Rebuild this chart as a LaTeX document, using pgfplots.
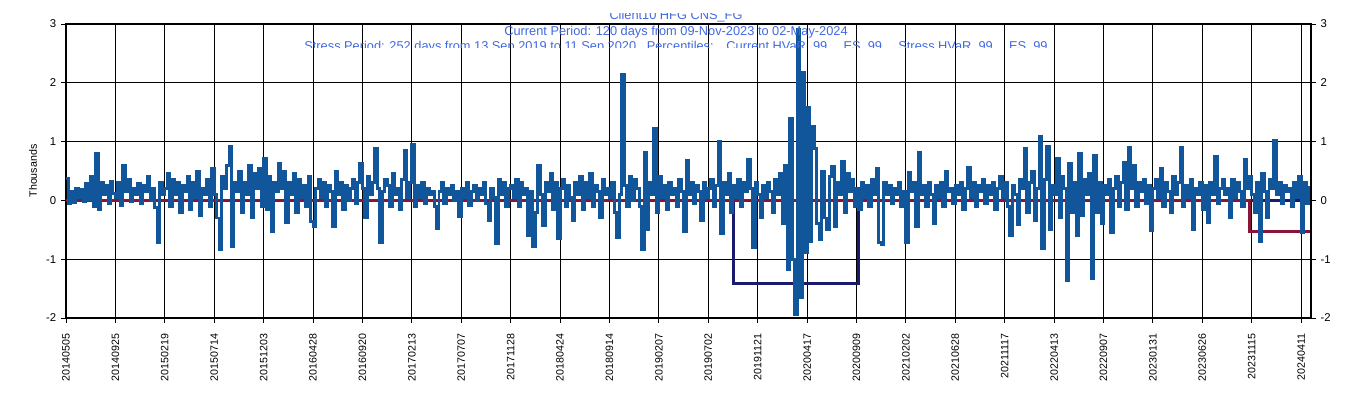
\documentclass[border=0pt]{standalone}
\usepackage{pgfplots}
\pgfplotsset{compat=1.18}
\usepackage{fontspec}
\setmainfont{Liberation Sans}
\definecolor{serblue}{RGB}{17,85,154}
\definecolor{serred}{RGB}{139,21,56}
\definecolor{sernavy}{RGB}{26,26,110}
\definecolor{ttlblue}{RGB}{65,105,225}
\begin{document}
\begin{tikzpicture}
\begin{axis}[
  name=ax,
  at={(49.5pt,60pt)}, anchor=south west,
  scale only axis, width=933.75pt, height=220.5pt,
  xmin=0, xmax=2520, ymin=-2, ymax=3,
  axis line style={line width=0.9pt},
  grid=major, grid style={black, line width=0.7pt},
  tick align=outside, major tick length=3.75pt,
  tick style={black, line width=0.7pt},
  xtick={0,100,...,2500},
  xticklabels={20140505,20140925,20150219,20150714,20151203,20160428,20160920,20170213,20170707,20171128,20180424,20180914,20190207,20190702,20191121,20200417,20200909,20210202,20210628,20211117,20220413,20220907,20230131,20230626,20231115,20240411},
  xticklabel style={rotate=90, anchor=east, font=\fontsize{8}{9}\selectfont},
  xticklabel shift=4.5pt,
  ytick={-2,-1,0,1,2,3},
  yticklabels={-2,-1,0,1,2,3},
  yticklabel style={font=\fontsize{8.5}{10}\selectfont},
  xtick pos=bottom, ytick pos=left,
  ylabel={Thousands},
  ylabel style={font=\fontsize{8}{9}\selectfont},
  clip=true,
]
\addplot[sernavy, line width=2.2pt, line join=miter] coordinates {(0,0) (1352,0) (1352,-1.42) (1604,-1.42) (1604,0) (2520,0)};
\addplot[serred, line width=2.2pt, line join=miter] coordinates {(0,0) (2396,0) (2396,-0.53) (2520,-0.53)};
\addplot[serblue, line width=2.2pt, const plot, line join=miter] table[x expr=\coordindex*5, y=y, row sep=\\] {
y\\
0.37\\ -0.05\\ 0.15\\ -0.03\\ 0.2\\ 0.05\\ 0.18\\ -0.02\\ 0.28\\ 0.02\\
0.4\\ -0.1\\ 0.8\\ -0.15\\ 0.3\\ 0.1\\ 0.25\\ -0.05\\ 0.32\\ 0.12\\
0.05\\ 0.3\\ -0.08\\ 0.6\\ 0.15\\ 0.35\\ -0.02\\ 0.2\\ 0.1\\ 0.28\\
-0.05\\ 0.25\\ 0.15\\ 0.4\\ 0.0\\ 0.2\\ -0.12\\ -0.71\\ 0.3\\ 0.1\\
0.2\\ 0.45\\ -0.1\\ 0.35\\ 0.1\\ 0.3\\ -0.2\\ 0.25\\ 0.15\\ 0.4\\
-0.15\\ 0.3\\ 0.05\\ 0.5\\ -0.25\\ 0.2\\ 0.1\\ 0.35\\ -0.1\\ 0.55\\
0.1\\ -0.3\\ -0.83\\ 0.4\\ 0.2\\ 0.6\\ 0.92\\ -0.78\\ 0.3\\ 0.15\\
0.5\\ -0.2\\ 0.3\\ 0.1\\ 0.6\\ -0.3\\ 0.45\\ 0.2\\ 0.55\\ -0.1\\
0.71\\ -0.15\\ 0.4\\ -0.53\\ 0.3\\ 0.15\\ 0.63\\ 0.2\\ 0.5\\ -0.38\\
0.3\\ 0.1\\ 0.45\\ -0.2\\ 0.35\\ 0.05\\ 0.25\\ -0.1\\ 0.4\\ -0.36\\
-0.44\\ 0.2\\ 0.35\\ 0.05\\ 0.3\\ -0.1\\ 0.25\\ 0.15\\ -0.45\\ 0.5\\
0.1\\ 0.3\\ -0.15\\ 0.25\\ 0.0\\ 0.2\\ 0.35\\ -0.05\\ 0.3\\ 0.63\\
0.2\\ -0.3\\ 0.4\\ 0.1\\ 0.3\\ 0.88\\ 0.2\\ -0.71\\ 0.15\\ 0.35\\
0.25\\ -0.1\\ 0.45\\ 0.1\\ 0.2\\ -0.15\\ 0.35\\ 0.85\\ 0.05\\ 0.3\\
0.95\\ -0.1\\ 0.25\\ 0.05\\ 0.3\\ -0.05\\ 0.2\\ 0.1\\ 0.15\\ -0.1\\
-0.48\\ 0.15\\ 0.3\\ -0.05\\ 0.2\\ 0.1\\ 0.25\\ 0.0\\ 0.15\\ -0.27\\
0.2\\ 0.05\\ 0.3\\ -0.08\\ 0.15\\ 0.25\\ 0.0\\ 0.2\\ 0.1\\ 0.3\\
-0.05\\ -0.35\\ 0.2\\ 0.05\\ -0.73\\ 0.35\\ 0.1\\ 0.3\\ -0.1\\ 0.2\\
0.25\\ 0.05\\ 0.35\\ -0.1\\ 0.3\\ 0.1\\ 0.2\\ -0.6\\ 0.15\\ -0.78\\
-0.2\\ 0.6\\ 0.1\\ -0.43\\ 0.3\\ 0.15\\ 0.45\\ -0.15\\ 0.3\\ -0.65\\
0.2\\ 0.35\\ -0.1\\ 0.25\\ 0.05\\ -0.35\\ 0.3\\ 0.1\\ 0.4\\ -0.15\\
0.3\\ 0.05\\ 0.45\\ -0.1\\ 0.25\\ 0.15\\ -0.3\\ 0.35\\ 0.1\\ 0.2\\
0.05\\ 0.3\\ -0.2\\ -0.63\\ 0.1\\ 2.14\\ 0.25\\ -0.1\\ 0.4\\ 0.0\\
0.35\\ 0.2\\ -0.1\\ -0.83\\ 0.82\\ -0.5\\ 0.3\\ 0.1\\ 1.22\\ -0.2\\
0.4\\ 0.05\\ 0.25\\ -0.15\\ 0.3\\ 0.1\\ 0.2\\ -0.1\\ 0.35\\ 0.15\\
-0.53\\ 0.68\\ 0.1\\ 0.3\\ -0.05\\ 0.25\\ 0.15\\ -0.35\\ 0.3\\ 0.05\\
0.2\\ 0.35\\ -0.1\\ 0.25\\ 1.0\\ -0.56\\ 0.3\\ 0.1\\ 0.45\\ -0.2\\
0.25\\ 0.05\\ 0.35\\ -0.1\\ 0.3\\ 0.15\\ 0.7\\ 0.2\\ -0.8\\ 0.3\\
0.1\\ -0.3\\ 0.25\\ 0.05\\ 0.3\\ 0.15\\ -0.2\\ 0.35\\ 0.1\\ 0.45\\
-0.4\\ 0.6\\ -1.17\\ 1.39\\ -1.0\\ -1.94\\ 2.9\\ -1.65\\ 2.17\\ -0.88\\
1.58\\ -0.7\\ 1.25\\ 0.88\\ -0.4\\ -0.66\\ 0.5\\ -0.3\\ -0.5\\ 0.4\\
0.58\\ -0.45\\ 0.3\\ 0.1\\ 0.66\\ -0.2\\ 0.45\\ 0.15\\ 0.35\\ -0.1\\
0.2\\ -0.15\\ 0.3\\ 0.05\\ 0.25\\ -0.1\\ 0.35\\ 0.1\\ 0.55\\ -0.72\\
-0.75\\ 0.3\\ 0.1\\ 0.25\\ -0.05\\ 0.2\\ 0.1\\ 0.3\\ -0.1\\ 0.15\\
-0.72\\ 0.48\\ 0.15\\ 0.3\\ -0.44\\ 0.82\\ 0.1\\ 0.25\\ -0.1\\ 0.3\\
0.1\\ -0.4\\ 0.25\\ 0.05\\ 0.3\\ -0.1\\ 0.5\\ 0.15\\ 0.2\\ -0.05\\
0.25\\ 0.1\\ 0.3\\ -0.15\\ 0.2\\ 0.56\\ 0.05\\ 0.3\\ -0.1\\ 0.25\\
0.15\\ 0.35\\ -0.05\\ 0.25\\ 0.1\\ 0.3\\ -0.15\\ 0.2\\ 0.4\\ 0.05\\
0.3\\ -0.1\\ -0.59\\ 0.25\\ 0.1\\ -0.41\\ 0.35\\ 0.2\\ 0.88\\ -0.2\\
0.3\\ 0.5\\ -0.35\\ 0.2\\ 1.08\\ -0.82\\ 0.35\\ 0.92\\ -0.5\\ 0.25\\
0.1\\ 0.72\\ -0.3\\ 0.4\\ 0.2\\ -1.36\\ 0.63\\ -0.2\\ 0.3\\ -0.6\\
0.8\\ -0.25\\ 0.35\\ 0.1\\ 0.45\\ -1.33\\ 0.76\\ -0.2\\ 0.3\\ -0.4\\
0.25\\ 0.1\\ 0.35\\ -0.55\\ 0.2\\ 0.4\\ -0.1\\ 0.3\\ 0.65\\ -0.15\\
0.9\\ 0.2\\ 0.6\\ -0.1\\ 0.3\\ 0.15\\ 0.35\\ -0.05\\ 0.25\\ -0.52\\
0.2\\ 0.35\\ 0.05\\ 0.55\\ -0.1\\ 0.3\\ 0.15\\ -0.2\\ 0.4\\ 0.1\\
0.3\\ 0.9\\ -0.1\\ 0.25\\ 0.05\\ 0.35\\ -0.5\\ 0.2\\ 0.1\\ 0.3\\
-0.15\\ 0.25\\ -0.38\\ 0.3\\ 0.1\\ 0.75\\ -0.05\\ 0.2\\ 0.35\\ 0.1\\
0.2\\ -0.3\\ 0.35\\ 0.05\\ 0.3\\ 0.15\\ -0.1\\ 0.7\\ 0.2\\ 0.4\\
0.1\\ -0.2\\ 0.3\\ -0.7\\ 0.45\\ 0.15\\ -0.3\\ 0.35\\ 0.2\\ 1.02\\
0.1\\ 0.3\\ -0.05\\ 0.25\\ 0.15\\ 0.2\\ -0.1\\ 0.3\\ 0.05\\ 0.4\\
-0.54\\ 0.3\\ -0.05\\ 0.25\\
};
\end{axis}
\begin{axis}[
  at={(49.5pt,60pt)}, anchor=south west,
  scale only axis, width=933.75pt, height=220.5pt,
  xmin=0, xmax=2520, ymin=-2, ymax=3,
  axis x line=none,
  axis y line*=right,
  axis line style={line width=0.9pt},
  tick align=outside, major tick length=3.75pt,
  tick style={black, line width=0.7pt},
  ytick={-2,-1,0,1,2,3},
  yticklabels={-2,-1,0,1,2,3},
  yticklabel style={font=\fontsize{8.5}{10}\selectfont},
  xtick=\empty,
]
\addplot[draw=none] coordinates {(0,0)};
\end{axis}
\begin{scope}
\clip (0pt,262.5pt) rectangle (1014.75pt,288pt);
\node[anchor=base, text=ttlblue, font=\fontsize{9.6}{11}\selectfont, inner sep=0pt] at (507pt,283.5pt) {Client10 HFG CNS\_FG};
\node[anchor=base, text=ttlblue, font=\fontsize{9.6}{11}\selectfont, inner sep=0pt] at (507pt,271.5pt) {Current Period: 120 days from 09-Nov-2023 to 02-May-2024};
\node[anchor=base, text=ttlblue, font=\fontsize{9.6}{11}\selectfont, inner sep=0pt] at (507pt,260.25pt) {Stress Period: 252 days from 13 Sep 2019 to 11 Sep 2020,\ \ Percentiles:\quad Current HVaR\ \ 99,\quad ES\ \ 99,\quad Stress HVaR\ \ 99,\quad ES\ \ 99};
\end{scope}
\pgfresetboundingbox
\path (0pt,0pt) rectangle (1014.75pt,298.5pt);
\end{tikzpicture}
\end{document}
